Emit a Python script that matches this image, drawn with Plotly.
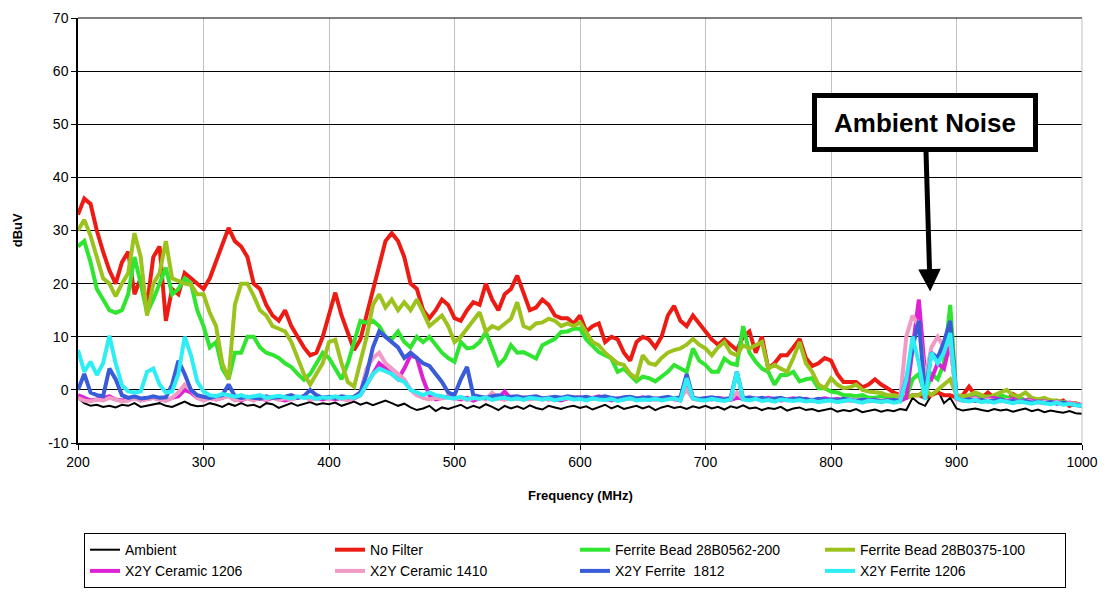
import plotly.graph_objects as go

# Frequency grid (MHz), one point every 5 MHz
freq = list(range(200, 1001, 5))

ambient = [
    -1.5, -2.5, -3, -2.8, -3.2, -3, -3.3, -2.8, -3, -2.5, -3.2, -3, -2.8, -2.5, -3, -3.2, -2.7, -2.2, -2.8, -3.1,
    -3, -2.5, -2.8, -3.2, -2.6, -3, -2.5, -3, -2.8, -3.3, -2.5, -2.7, -3.4, -2.9, -2.5, -3, -2.7, -2.3, -2.8, -2.5,
    -2.7, -2.4, -3, -2.6, -2.2, -2.8, -2.4, -2.9, -2.5, -2, -2.5, -3, -2.6, -3.3, -3.8, -3.5, -3, -4, -3.3, -3.6,
    -3.2, -2.8, -3.5, -3, -3.4, -2.7, -3.2, -3.8, -3, -3.5, -3.1, -3.6, -2.9, -3.4, -3.7, -3, -3.3, -3.6, -3.2, -3,
    -3.4, -3.1, -3.7, -3.2, -2.8, -3.5, -3, -3.6, -3.3, -3, -3.5, -3.1, -3.8, -3.3, -3, -3.4, -3.2, -3.6, -3.1, -3.4,
    -3, -3.5, -3.2, -3.7, -3.1, -3.4, -2.9, -3.5, -3.3, -3.8, -3.4, -3.6, -3.2, -3.9, -3.5, -3.3, -3.8, -3.6, -4, -3.7,
    -3.5, -4.1, -3.8, -4, -3.6, -4.2, -3.9, -3.7, -4.1, -3.8, -4, -3.6, -3.8, -1.5, -2.5, -3, -1, 0, -2.5, -1.5,
    -3.5, -3.9, -3.7, -3.5, -3.8, -4, -3.6, -3.9, -3.7, -4.1, -3.8, -3.5, -4, -3.7, -4.2, -3.9, -4.1, -4.3, -4, -4.4,
    -4.5,
]

no_filter = [
    33, 36, 35, 30, 26, 22.5, 20, 24, 26, 18, 21, 16, 25, 27, 13, 19, 18, 22, 21, 20,
    19, 21, 24, 27, 30.5, 28, 27, 25, 20, 19, 16, 14, 13, 15, 12, 10, 8, 6.5, 7, 10,
    14, 18.3, 14, 11, 7.5, 9.5, 14, 19, 23, 28, 29.5, 28, 25, 20, 19, 15, 13.5, 15, 17, 16,
    13.5, 13, 15, 16.5, 16, 20, 17, 15, 18, 19, 21.5, 18, 15, 15.5, 17, 16, 14, 13.5, 13.5, 12.5,
    14, 11, 12, 12.5, 9, 10, 9.5, 7, 5.5, 9, 10, 9.5, 8, 10, 14, 15.8, 13, 12, 14, 12.5,
    11, 9.5, 8.5, 9.5, 8.5, 7.5, 10, 11, 7, 10, 4, 5, 6.5, 6.5, 8, 9.6, 6, 4.5, 5, 6,
    5.5, 3, 1.5, 1.5, 1.5, 0.5, 1, 2, 1, 0.3, -0.5, -1, -1.5, -1, -1, -1.5, -1, -0.5, -1, -1,
    -1.5, -1, 0.6, -1, -1.5, -0.5, -1.5, -1, -2, -0.8, -1.5, -2, -1.5, -2, -2.5, -2, -2.5, -2, -3, -2.5,
    -3,
]

bead_562 = [
    27, 28, 24, 19, 17, 15, 14.5, 15, 18, 25, 20, 14.5, 17, 20, 23, 18, 19, 21, 20, 15,
    12, 8, 9, 4, 2, 7, 7, 10, 10, 8, 7, 6.6, 6, 5, 4.3, 3, 1.9, 3, 5, 7,
    6, 4, 2, 5, 9, 13, 12.6, 13, 12, 10, 9.5, 11, 9, 8, 10, 9, 10, 8.4, 7, 6,
    5.3, 9, 7.8, 8, 9, 10.9, 8, 4.7, 5.9, 8.4, 7, 7.1, 6.5, 5.9, 8.4, 9, 9.6, 10.9, 11, 11.5,
    11.5, 9.5, 8.4, 7.1, 6.5, 5.9, 3.4, 4, 2.8, 1.6, 2.5, 2.2, 1.6, 2.5, 3.4, 4.7, 4, 3.4, 7.8, 5.5,
    4.7, 3.4, 3.4, 5.9, 5, 4.7, 12, 7, 5.3, 4, 3.4, 1, 2.8, 2.8, 3.4, 1.6, 2, 2.2, 0.3, 0.3,
    -0.3, -0.5, -1, -1, -1.2, -1, -1.5, -1.5, -1.2, -1.5, -1.5, -1.5, -1.5, 2, 3, -1, 3, 2, 5, 16,
    -1.5, -1.2, -1.5, -1, -1.5, -1.2, -1.5, -1, -1.5, -1.8, -1.5, -2, -1.8, -2, -2, -2.2, -2.5, -2.3, -2.5, -2.8,
    -3,
]

bead_375 = [
    30, 32, 29, 25, 21, 20, 17.6, 20, 22, 29.5, 25, 14, 20, 22, 28, 21, 20.5, 20, 19.8, 18,
    18, 14.5, 12, 5, 2, 16, 20, 20, 17.7, 15, 14, 12, 11.5, 11, 9, 6, 3, 1, 3, 5,
    9, 9.4, 5, 1.5, 0.6, 5, 10, 16, 18, 15.5, 17, 15, 16.5, 15, 17, 14.6, 12, 13, 14, 12,
    9, 10, 11.5, 13, 14.6, 11, 12, 11.5, 12.5, 13.4, 16.5, 12, 11.5, 12.5, 12.7, 13.4, 13, 12, 12.5, 12,
    12.7, 11, 9, 8.4, 7, 6, 5, 4.7, 3, 2.2, 6.5, 5, 4.7, 6, 7, 7.5, 7.8, 8.5, 9.6, 8.5,
    7.8, 6.5, 8, 9, 7, 6.5, 8.4, 7.8, 8.5, 9, 4, 4.7, 4, 3.4, 6, 9, 5, 3.4, 1, 0.3,
    2.2, 1, 0.3, 0.5, 1, 0, -0.3, -0.5, -0.6, -1, -1, -1.2, -1.5, -1, -1, 0, -1, 0, 1, 2,
    -1, -1.2, -1, -0.5, -1, -1.5, -1, -0.5, 0, -1, -1.2, -0.5, -1.5, -1.8, -1.5, -2, -2, -2.3, -2.5, -2.5,
    -3,
]

ceramic_1206 = [
    -1, -1.5, -2, -1.8, -1.5, -1.2, -1.8, -2, -1.8, -1.5, -2, -1.7, -1.5, -1.8, -2, -1.5, -1.2, 0, -0.5, -1.5,
    -1.8, -1.5, -1.8, -1.5, -1, -1.8, -2, -1.5, -1.8, -1.6, -1.9, -1.5, -1.8, -2, -1.7, -1.5, -1.2, -1.8, -1.5, -1.8,
    -1.6, -1.8, -1.5, -1.9, -1.6, -1, 1, 3, 5, 4, 3, 2, 4, 6.5, 6, 2, -1, -1.8, -1.5, -1.2,
    -1.5, -1.8, -1.5, -2, -1.6, -1.4, -1.8, -1.5, -0.3, -1.7, -1.5, -1.8, -1.5, -1.3, -1.8, -1.5, -1.8, -2, -1.6, -1.5,
    -1.4, -1.8, -1.5, -1.2, -1.7, -2, -1.6, -1.8, -1.5, -1.7, -1.4, -1.9, -1.6, -1.8, -1.5, -1.7, -2, 1.5, -1.5, -1.8,
    -1.6, -1.8, -1.5, -1.7, -1.9, -1.5, -1.7, -1.8, -1.6, -1.9, -1.5, -1.7, -2, -1.8, -1.6, -1.9, -1.7, -2, -1.8, -1.6,
    -1.9, -1.7, -2, -1.8, -2.1, -1.9, -2, -1.8, -2.2, -1.9, -2, -2.1, -1.5, 8, 17, 3, 2, 5, 4, 9,
    -1.5, -2, -1.8, -1.5, -2, -1.8, -1.5, -1.9, -2, -1.7, -2.2, -1.9, -2, -2.3, -2.1, -2.5, -2.2, -2.6, -2.4, -2.7,
    -2.8,
]

ceramic_1410 = [
    -1.5, -2, -2.2, -1.8, -2, -1.5, -1.8, -2.2, -2, -1.6, -2, -1.8, -1.5, -1.8, -2, -1.5, -0.5, 1, 0, -1.5,
    -2, -1.6, -1.8, -1.5, -1.2, -2, -1.8, -1.6, -2, -1.5, -1.8, -1.4, -1.9, -1.6, -1.8, -1.5, -1.2, -1.8, -1.6, -1.5,
    -1.8, -1.5, -1.7, -2, -1.5, -0.5, 4, 6, 7, 5, 4, 3, 2, 0, -1, -1.5, -1.8, -1.5, -1.6, -1.4,
    -1.7, -1.5, -1.9, -1.6, -1.4, -1.8, -0.5, -1.6, -1.9, -1.5, -1.7, -1.4, -1.8, -1.6, -1.5, -1.9, -1.6, -1.7, -1.5, -1.8,
    -1.6, -1.9, -1.5, -1.7, -1.8, -1.6, -1.9, -1.5, -1.7, -1.6, -1.8, -1.5, -1.9, -1.7, -1.6, -1.8, -1.5, 0, -1.7, -1.9,
    -1.7, -1.5, -1.9, -1.6, -1.8, -0.5, -1.7, -1.9, -1.6, -1.8, -1.7, -1.9, -1.6, -2, -1.8, -1.7, -2, -1.8, -1.9, -2,
    -1.8, -2, -1.9, -2.1, -1.8, -2, -2.2, -1.9, -2, -2.1, -1.9, -2, 10, 14, 12, 2, 8, 10, 8, 9,
    -1.8, -2, -1.9, -1.6, -2.1, -1.8, -2, -2.2, -1.9, -2.1, -2.3, -2, -2.2, -2.4, -2.2, -2.5, -2.3, -2.6, -2.5, -2.7,
    -2.9,
]

ferrite_1812 = [
    0, 3, -0.5, -1, -1.2, 4, 2, -1, -1.5, -1.2, -1.6, -1.5, -1.2, -1.5, -1.4, 1, 5.5, 3, 0, -1,
    -1.3, -1.5, -1.2, -1, 1, -1.2, -1.5, -1.3, -1.5, -1.6, -1.2, -1.5, -1.4, -1.3, -1, -1.5, -1.2, 0, -1, -1.5,
    -1.3, -1.5, -1.2, -1.4, -1.3, -0.5, 3, 8, 11, 10, 9, 8, 6, 7, 6, 5, 4.5, 3, 1.5, -0.5,
    -1, 2, 4.3, -1, -1.3, -1.5, -1.2, -1, -1.4, -1.3, -1.2, -1.5, -1.3, -1.2, -1.6, -1.4, -1.3, -1.5, -1.2, -1.4,
    -1.5, -1.3, -1.6, -1.4, -1.2, -1.5, -1.7, -1.4, -1.3, -1.6, -1.5, -1.4, -1.7, -1.5, -1.3, -1.6, -1.4, 3, -1.5, -1.7,
    -1.5, -1.4, -1.6, -1.8, -1.5, 3.4, -1.6, -1.4, -1.7, -1.5, -1.8, -1.6, -1.5, -1.9, -1.7, -1.6, -1.8, -2, -1.7, -1.9,
    -1.8, -2, -1.7, -1.9, -2.1, -1.8, -2, -1.9, -2.2, -2, -1.9, -2.1, 2, 8, 13, -1, 7, 6, 9, 13,
    -1.5, -2, -1.8, -2.1, -1.9, -2.2, -2, -1.8, -2.2, -2.1, -2.3, -2.1, -2.4, -2.2, -2.5, -2.3, -2.6, -2.4, -2.7, -2.8,
    -3,
]

ferrite_1206 = [
    7.5, 3.4, 5.3, 2.8, 5, 10.2, 5, 0.9, -0.3, -0.5, -0.3, 3.4, 4, 1, -0.5, -0.3, 3, 10, 6.5, 1.6,
    -0.3, -1, -1.2, -0.8, -1, -1.3, -1, -1.4, -1.2, -1, -1.5, -1.3, -1.1, -1.4, -1.6, -1.2, -1.5, -1.3, -1.7, -1.4,
    -1.5, -1.2, -1.6, -1.3, -1.5, -1, 1, 3, 4, 3.5, 3, 2, 1.5, 0, -0.5, -1, -0.5, -1, -1.2, -1.5,
    -1.6, -1.3, -1.8, -1.5, -1.7, -1.4, -1.9, -1.6, -1.5, -1.8, -1.6, -1.9, -1.5, -1.7, -1.8, -1.6, -2, -1.7, -1.5, -1.8,
    -1.7, -2, -1.6, -1.8, -1.9, -1.7, -2.1, -1.8, -1.6, -2, -1.8, -1.9, -1.7, -2, -1.8, -1.6, -2, 2.2, -1.6, -1.9,
    -2, -1.7, -1.9, -2.1, -1.8, 3.4, -1.8, -2, -1.7, -2.1, -1.9, -2.2, -1.8, -2, -2.1, -1.9, -2.2, -2, -2.3, -2.1,
    -2, -2.3, -2.1, -1.9, -2.2, -2.4, -2, -2.2, -2.3, -2.1, -2.4, -2.2, 1.9, 10, 5, -1.9, 7, 5, 7, 10.7,
    -1.5, -2, -2.2, -1.9, -2.3, -2.1, -2.4, -2, -2.3, -2.5, -2.2, -2.4, -2.6, -2.3, -2.5, -2.7, -2.4, -2.8, -2.6, -2.9,
    -3,
]

series_names = [
    "Ambient", "No Filter", "Ferrite Bead 28B0562-200", "Ferrite Bead 28B0375-100",
    "X2Y Ceramic 1206", "X2Y Ceramic 1410", "X2Y Ferrite  1812", "X2Y Ferrite 1206",
]
series_values = [ambient, no_filter, bead_562, bead_375, ceramic_1206, ceramic_1410, ferrite_1812, ferrite_1206]
series_colors = ["#000000", "#ec1c14", "#2fe52f", "#9cc21e", "#dd22d4", "#f29ac6", "#3a5cd8", "#2eeef4"]
series_widths = [2, 4, 4, 4, 4, 4, 4, 4]

x_ticks = [200, 300, 400, 500, 600, 700, 800, 900, 1000]
y_ticks = [-10, 0, 10, 20, 30, 40, 50, 60, 70]

fig = go.Figure()
for name, vals, col, w in zip(series_names, series_values, series_colors, series_widths):
    fig.add_trace(go.Scatter(x=freq, y=vals, mode="lines", name=name,
                             line=dict(color=col, width=w)))

font_family = "Arial, Liberation Sans, sans-serif"

# the page adds an 8 px body margin, so the figure is 8 px smaller each way
fig.update_layout(
    width=1109, height=587,
    margin=dict(l=70, r=35, t=10, b=152, autoexpand=False),
    paper_bgcolor="white", plot_bgcolor="white",
    font=dict(family=font_family, size=13, color="black"),
    showlegend=True,
    legend=dict(
        orientation="h",
        x=0.006, xanchor="left",
        y=-0.212, yanchor="top",
        bordercolor="black", borderwidth=1, bgcolor="white",
        entrywidth=200, entrywidthmode="pixels",
        font=dict(size=14, family=font_family),
        traceorder="normal",
    ),
    xaxis=dict(
        range=[200, 1000], tickvals=x_ticks, ticktext=[str(v) for v in x_ticks],
        showgrid=True, gridcolor="#c0c0c0", gridwidth=1,
        showline=True, linecolor="black", linewidth=1.5,
        ticks="outside", ticklen=5, tickcolor="black",
        zeroline=False, tickfont=dict(size=14), automargin=False,
    ),
    yaxis=dict(
        range=[-10, 70], tickvals=y_ticks, ticktext=[str(v) for v in y_ticks],
        showgrid=True, gridcolor="black", gridwidth=1,
        showline=True, linecolor="black", linewidth=1.5,
        ticks="outside", ticklen=5, tickcolor="black",
        zeroline=False, tickfont=dict(size=14), automargin=False,
    ),
)

# axis titles
fig.add_annotation(text="<b>Frequency (MHz)</b>", xref="paper", yref="paper",
                   x=0.5, y=-0.123, xanchor="center", yanchor="middle",
                   showarrow=False, font=dict(size=13, family=font_family))
fig.add_annotation(text="<b>dBuV</b>", xref="paper", yref="paper",
                   x=-0.060, y=0.5, xanchor="center", yanchor="middle", textangle=-90,
                   showarrow=False, font=dict(size=13, family=font_family))

# plot-area frame: black top, gray right
fig.add_shape(type="line", xref="paper", yref="paper", x0=0, x1=1, y0=1, y1=1,
              line=dict(color="black", width=1))
fig.add_shape(type="line", xref="paper", yref="paper", x0=1, x1=1, y0=0, y1=1,
              line=dict(color="#c0c0c0", width=1))

fig.add_annotation(
    x=879, y=18.5, xref="x", yref="y",
    text="<b>Ambient Noise</b>",
    font=dict(size=26, family=font_family, color="black"),
    showarrow=True, arrowhead=2, arrowsize=0.9, arrowwidth=5, arrowcolor="black",
    ax=-5, ay=-169,
    bordercolor="black", borderwidth=5, borderpad=2, bgcolor="white",
    width=212, height=45,
)

fig.write_html("out.html")
